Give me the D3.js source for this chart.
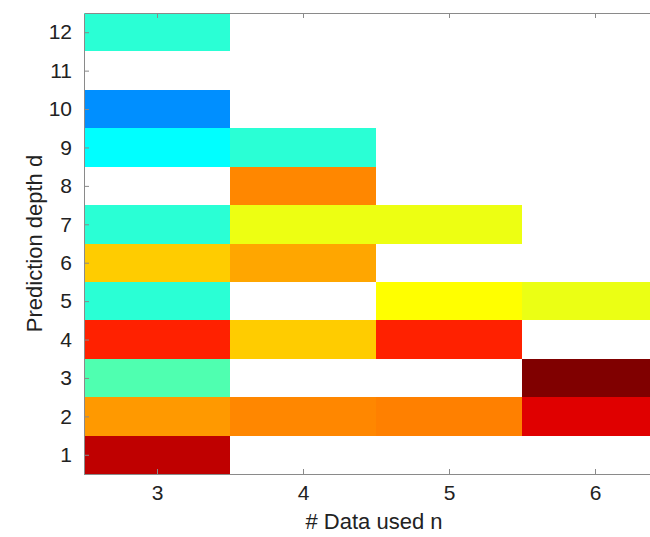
<!DOCTYPE html>
<html>
<head>
<meta charset="utf-8">
<script src="https://cdn.jsdelivr.net/npm/d3@7"></script>
<style>
  body { margin: 0; background: #fff; }
  svg { display: block; font-family: "Liberation Sans", Arial, sans-serif; }
  .axis path, .axis line { stroke: #8a8a8a; }
  .axis text { fill: #222; font-size: 21px; }
</style>
</head>
<body>
<div id="chart"></div>
<script>
(function() {

  // x categories and y categories
  var nUsed = [3, 4, 5, 6]
  var depths = [1, 2, 3, 4, 5, 6, 7, 8, 9, 10, 11, 12]

  // value on the jet colour map (0..1), one entry per depth 1..12, null = empty
  var valuesN3 = [0.9375, 0.725, 0.4525, 0.843, 0.416, 0.675, 0.416, null, 0.375, 0.265, null, 0.416]
  var valuesN4 = [null, 0.743, null, 0.675, null, 0.7125, 0.6075, 0.743, 0.416, null, null, null]
  var valuesN5 = [null, 0.75, null, 0.843, 0.625, null, 0.6075, null, null, null, null, null]
  var valuesN6 = [null, 0.905, 1.0, null, 0.605, null, null, null, null, null, null, null]

  var columns = [valuesN3, valuesN4, valuesN5, valuesN6]

  var margin = { top: 13, left: 84, right: 0, bottom: 63 }
  var svgWidth = 650, svgHeight = 537
  var height = svgHeight - margin.top - margin.bottom

  var svg = d3.select("#chart")
    .append("svg")
    .attr("width", svgWidth)
    .attr("height", svgHeight)

  var x = d3.scaleLinear()
    .domain([2.5, 6.5])
    .range([margin.left, margin.left + 584])

  var y = d3.scaleLinear()
    .domain([0.5, 12.5])
    .range([margin.top + height, margin.top])

  function jet(v) {
    function c(t) { return Math.max(0, Math.min(1, t)) }
    var r = c(1.5 - Math.abs(4 * v - 3))
    var g = c(1.5 - Math.abs(4 * v - 2))
    var b = c(1.5 - Math.abs(4 * v - 1))
    return d3.rgb(r * 255, g * 255, b * 255)
  }

  var cells = []
  columns.forEach(function(col, i) {
    col.forEach(function(v, j) {
      if (v !== null) cells.push({ n: nUsed[i], d: depths[j], v: v })
    })
  })

  svg.selectAll(".cell")
    .data(cells)
    .enter().append("rect")
    .attr("class", "cell")
    .attr("x", function(d) { return x(d.n - 0.5) })
    .attr("y", function(d) { return y(d.d + 0.5) })
    .attr("width", function(d) { return x(d.n + 0.5) - x(d.n - 0.5) })
    .attr("height", function(d) { return y(d.d - 0.5) - y(d.d + 0.5) })
    .attr("fill", function(d) { return jet(d.v) })
    .attr("shape-rendering", "crispEdges")

  // axes with inward ticks
  var xAxis = svg.append("g")
    .attr("class", "axis")
    .attr("transform", "translate(0," + (margin.top + height) + ")")
    .call(d3.axisBottom(x).tickValues(nUsed).tickFormat(d3.format("d"))
      .tickSizeInner(-5).tickSizeOuter(0).tickPadding(11))

  var xTop = svg.append("g")
    .attr("class", "axis")
    .attr("transform", "translate(0," + margin.top + ")")
    .call(d3.axisTop(x).tickValues(nUsed).tickFormat("")
      .tickSizeInner(-5).tickSizeOuter(0))

  var yAxis = svg.append("g")
    .attr("class", "axis")
    .attr("transform", "translate(" + margin.left + ",0)")
    .call(d3.axisLeft(y).tickValues(depths).tickFormat(d3.format("d"))
      .tickSizeInner(-5).tickSizeOuter(0).tickPadding(12))

  svg.selectAll(".axis path").attr("shape-rendering", "crispEdges")

  svg.append("text")
    .text("# Data used n")
    .attr("x", 374)
    .attr("y", 529)
    .attr("text-anchor", "middle")
    .attr("font-size", "22px")
    .attr("fill", "#222")

  svg.append("text")
    .text("Prediction depth d")
    .attr("transform", "translate(42," + (margin.top + height / 2) + ") rotate(-90)")
    .attr("text-anchor", "middle")
    .attr("font-size", "22px")
    .attr("fill", "#222")

})();
</script>
</body>
</html>
